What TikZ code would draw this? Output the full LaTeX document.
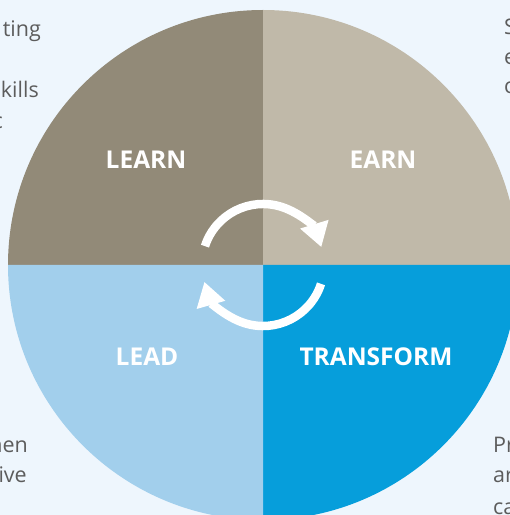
\documentclass[tikz,border=0pt]{standalone}
\usepackage{fontspec}
\setmainfont{Open Sans}
\usetikzlibrary{arrows.meta,calc}
\definecolor{pagebg}{RGB}{238,246,253}
\definecolor{learngrey}{RGB}{146,138,120}
\definecolor{earngrey}{RGB}{192,185,169}
\definecolor{leadblue}{RGB}{162,207,236}
\definecolor{transblue}{RGB}{6,158,219}
\definecolor{bodygrey}{RGB}{92,92,92}

\begin{document}
\begin{tikzpicture}[x=1pt, y=1pt,
  label/.style={font=\fontsize{24.5}{24.5}\selectfont\bfseries, text=white},
  sidetext/.style={font=\fontsize{21.5}{21.5}\selectfont, text=bodygrey, inner sep=0pt},
  cyclearrow/.style={white, line width=8.5pt, -{Triangle[width=28pt,length=24pt]}}]
% Page and background
\useasboundingbox (0,0) rectangle (510,515);
\clip (0,0) rectangle (510,515);
\fill[pagebg] (0,0) rectangle (510,515);

% Quadrants of the wheel
\coordinate (hub) at (263,250);
\fill[learngrey] (hub) -- ++(180:255) arc (180:90:255) -- cycle;
\fill[earngrey] (hub) -- ++(90:255) arc (90:0:255) -- cycle;
\fill[transblue] (hub) -- ++(0:255) arc (0:-90:255) -- cycle;
\fill[leadblue] (hub) -- ++(-90:255) arc (-90:-180:255) -- cycle;

% Quadrant labels
\node[label] (learn) at (146,355) {LEARN};
\node[label] (earn) at (383,355) {EARN};
\node[label] (lead) at (147,158) {LEAD};
\node[label] (transform) at (376,158) {TRANSFORM};

% Cycle arrows
\draw[cyclearrow] ($(hub)+(162:61)$) arc (162:17:61);
\draw[cyclearrow] ($(hub)+(-18:61)$) arc (-18:-164:61);

% Side text, cut by the page edge
\node[sidetext, anchor=base east] (tl1) at (41,478) {ting};
\node[sidetext, anchor=base east] (tl2) at (39,417) {kills};
\node[sidetext, anchor=base east] (tl3) at (3,386) {c};
\node[sidetext, anchor=base west] (tr1) at (504,480) {S};
\node[sidetext, anchor=base west] (tr2) at (504,450) {e};
\node[sidetext, anchor=base west] (tr3) at (504,421) {c};
\node[sidetext, anchor=base east] (bl1) at (28,63) {hen};
\node[sidetext, anchor=base east] (bl2) at (27,32) {ive};
\node[sidetext, anchor=base west] (br1) at (493,63) {Pr};
\node[sidetext, anchor=base west] (br2) at (493,32) {ar};
\node[sidetext, anchor=base west] (br3) at (493,1) {ca};
\end{tikzpicture}
\end{document}
